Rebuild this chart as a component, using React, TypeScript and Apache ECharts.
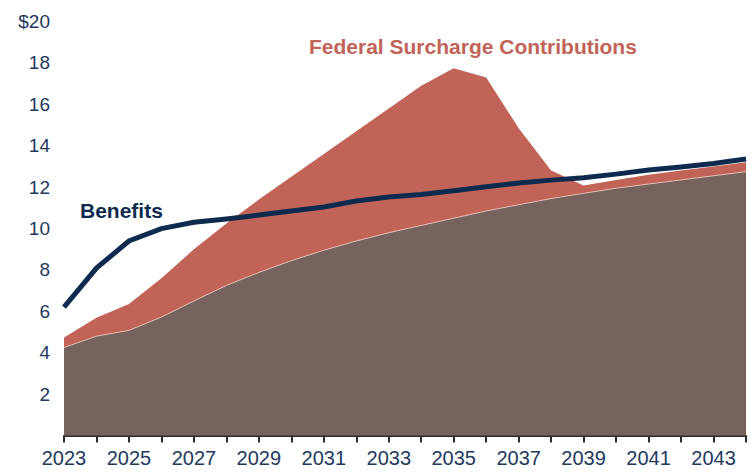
import React, { useEffect, useRef } from "react";
import * as echarts from "echarts";

const years = [
  "2023", "2024", "2025", "2026", "2027", "2028", "2029", "2030", "2031", "2032", "2033",
  "2034", "2035", "2036", "2037", "2038", "2039", "2040", "2041", "2042", "2043", "2044",
];
const stateOnly = [
  4.25, 4.8, 5.08, 5.72, 6.5, 7.25, 7.88, 8.45, 8.95, 9.4, 9.8,
  10.15, 10.5, 10.85, 11.15, 11.45, 11.7, 11.95, 12.15, 12.35, 12.55, 12.75,
];
const federalSurcharge = [
  0.49, 0.89, 1.27, 1.88, 2.5, 3.0, 3.52, 4.05, 4.65, 5.3, 6.0,
  6.75, 7.25, 6.45, 3.7, 1.35, 0.38, 0.39, 0.45, 0.45, 0.45, 0.45,
];
const benefits = [
  6.2, 8.09, 9.4, 10.0, 10.3, 10.46, 10.65, 10.85, 11.04, 11.33, 11.52,
  11.65, 11.83, 12.02, 12.2, 12.34, 12.45, 12.63, 12.83, 12.97, 13.14, 13.36,
];

const NAVY = "#0E2B4F";
const RED = "#C26358";
const BROWN = "#76635D";
const LABEL = "#22395E";
const FONT = "'Liberation Sans', Arial, Helvetica, sans-serif";

export default function App() {
  const ref = useRef<HTMLDivElement>(null);
  useEffect(() => {
    if (!ref.current) return;
    const chart = echarts.init(ref.current, undefined, { renderer: "svg" });
    chart.setOption({
      animation: false,
      backgroundColor: "#ffffff",
      grid: { left: 64, right: 10, top: 21.6, bottom: 38.5, containLabel: false },
      xAxis: {
        type: "category",
        data: years,
        boundaryGap: false,
        axisLine: { show: true, lineStyle: { color: "#2b2b2b", width: 2 } },
        axisTick: { show: true, interval: 0, length: 7, lineStyle: { color: "#2b2b2b", width: 2 } },
        axisLabel: {
          interval: 1,
          color: LABEL,
          fontFamily: FONT,
          fontSize: 20,
          margin: 12,
        },
        splitLine: { show: false },
      },
      yAxis: {
        type: "value",
        min: 0,
        max: 20,
        interval: 2,
        axisLine: { show: false },
        axisTick: { show: false },
        splitLine: { show: false },
        axisLabel: {
          color: LABEL,
          fontFamily: FONT,
          fontSize: 19,
          margin: 14,
          formatter: (v: number) => (v === 0 ? "" : v === 20 ? "$20" : String(v)),
        },
      },
      series: [
        {
          name: "State-Only Contributions",
          type: "line",
          stack: "total",
          data: stateOnly,
          symbol: "none",
          lineStyle: { color: "rgba(240,200,190,0.8)", width: 1 },
          areaStyle: { color: BROWN, opacity: 1 },
          z: 2,
        },
        {
          name: "Federal Surcharge Contributions",
          type: "line",
          stack: "total",
          data: federalSurcharge,
          symbol: "none",
          lineStyle: { width: 0, color: RED },
          areaStyle: { color: RED, opacity: 1 },
          z: 1,
        },
        {
          name: "Benefits",
          type: "line",
          data: benefits,
          symbol: "none",
          lineStyle: { color: NAVY, width: 5, join: "miter" },
          z: 5,
        },
      ],
      graphic: [
        {
          type: "text",
          left: 309,
          top: 36,
          style: {
            text: "Federal Surcharge Contributions",
            fill: RED,
            font: `bold 21px ${FONT}`,
          },
        },
        {
          type: "text",
          left: 80,
          top: 200,
          style: {
            text: "Benefits",
            fill: NAVY,
            font: `bold 21px ${FONT}`,
          },
        },
        {
          type: "text",
          left: 367,
          top: 315,
          style: {
            text: "State-Only Contributions",
            fill: "#ffffff",
            font: `bold 21px ${FONT}`,
          },
        },
      ],
    });
    return () => chart.dispose();
  }, []);
  return <div ref={ref} style={{ width: 756, height: 474, position: "absolute", left: 0, top: 0 }} />;
}
